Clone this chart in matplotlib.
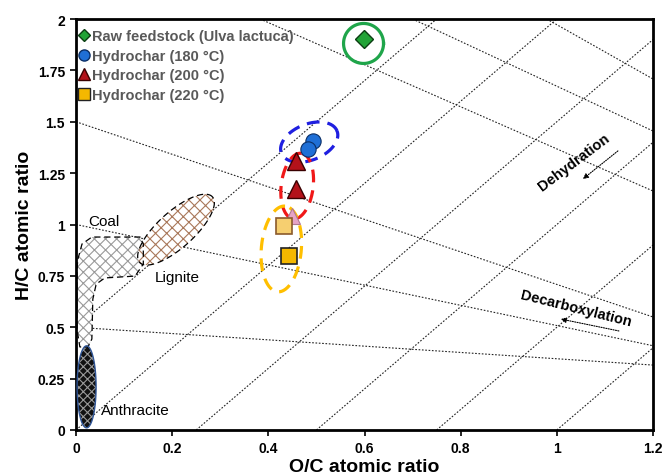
import numpy as np
import matplotlib
matplotlib.use("Agg")
import matplotlib.pyplot as plt
from matplotlib.patches import Polygon
from matplotlib.lines import Line2D

plt.rcParams['font.family'] = ['Liberation Sans', 'DejaVu Sans']

# ---------------- data ----------------
raw_oc = [0.598]
raw_hc = [1.903]
hc180_oc = [0.492, 0.483]
hc180_hc = [1.406, 1.367]
hc200_oc = [0.458, 0.458, 0.450]
hc200_hc = [1.309, 1.173, 1.041]
hc220_oc = [0.433, 0.442]
hc220_hc = [0.993, 0.847]

series_labels = ["Raw feedstock (Ulva lactuca)", "Hydrochar (180 °C)",
                 "Hydrochar (200 °C)", "Hydrochar (220 °C)"]

x_ticks = [0, 0.2, 0.4, 0.6, 0.8, 1.0, 1.2]
x_tick_labels = ["0", "0.2", "0.4", "0.6", "0.8", "1", "1.2"]
y_ticks = [0, 0.25, 0.5, 0.75, 1.0, 1.25, 1.5, 1.75, 2.0]
y_tick_labels = ["0", "0.25", "0.5", "0.75", "1", "1.25", "1.5", "1.75", "2"]

# dehydration guide lines: H/C = 2 * (O/C - offset)
dehydration_offsets = [-0.25, 0.0, 0.25, 0.5, 0.75, 1.0]
# decarboxylation guide lines (start O/C, start H/C, end O/C, end H/C)
decarb_x0 = [0.383, 0.700, 0.979, 0.0, 0.0, 0.0]
decarb_y0 = [2.000, 2.000, 2.000, 1.5, 1.0, 0.5]
decarb_x1 = [1.2, 1.2, 1.2, 1.2, 1.2, 1.2]
decarb_y1 = [1.163, 1.455, 1.708, 0.55, 0.41, 0.316]

# coal region outline (O/C, H/C)
coal_oc = [0.004, 0.0125, 0.033, 0.133, 0.140, 0.140, 0.123, 0.060, 0.042,
           0.035, 0.033, 0.025, 0.008, 0.002, 0.002]
coal_hc = [0.832, 0.905, 0.939, 0.939, 0.905, 0.808, 0.749, 0.740, 0.710,
           0.637, 0.443, 0.404, 0.404, 0.491, 0.783]

# ---------------- figure ----------------
fig = plt.figure(figsize=(6.66, 4.77), dpi=100)
ax = fig.add_axes([76 / 666, 1 - 431 / 477, 577 / 666, 411 / 477])
ax.set_xlim(0, 1.2)
ax.set_ylim(0, 2)

guide = dict(color='#222222', lw=0.8, linestyle=(0, (1.5, 1.5)), zorder=1)
for off in dehydration_offsets:
    x_start = max(0.0, off)
    ax.plot([x_start, 1.2], [2 * (x_start - off), 2 * (1.2 - off)], **guide)
for a, b, c, d in zip(decarb_x0, decarb_y0, decarb_x1, decarb_y1):
    ax.plot([a, c], [b, d], **guide)


def ellipse_pts(cx, cy, a, b, ang):
    """ellipse with centre in data coords, semi-axes in pixels, angle in deg"""
    t = np.linspace(0, 2 * np.pi, 200)
    c0 = ax.transData.transform((cx, cy))
    th = np.deg2rad(ang)
    px = a * np.cos(t) * np.cos(th) - b * np.sin(t) * np.sin(th)
    py = a * np.cos(t) * np.sin(th) + b * np.sin(t) * np.cos(th)
    pts = np.column_stack([c0[0] + px, c0[1] + py])
    return ax.transData.inverted().transform(pts)


plt.rcParams['hatch.linewidth'] = 0.8

# coal
coal_xy = np.column_stack([coal_oc, coal_hc])
ax.add_patch(Polygon(coal_xy, closed=True, facecolor='white', edgecolor='#9a9a9a',
                     hatch='xxx', lw=0, zorder=2))
ax.add_patch(Polygon(coal_xy, closed=True, fill=False, edgecolor='black',
                     lw=0.9, linestyle=(0, (5, 3)), zorder=3))
# lignite
lig = ellipse_pts(0.208, 0.975, 49, 18, 42)
ax.add_patch(Polygon(lig, closed=True, facecolor='white', edgecolor='#a9785a',
                     hatch='xxx', lw=0, zorder=2))
ax.add_patch(Polygon(lig, closed=True, fill=False, edgecolor='black',
                     lw=0.9, linestyle=(0, (5, 3)), zorder=3))
# anthracite
ant = ellipse_pts(0.022, 0.21, 41, 9.5, 90)
ax.add_patch(Polygon(ant, closed=True, facecolor='#111111', edgecolor='#9a9a9a',
                     hatch='xxxx', lw=0, zorder=2))
ax.add_patch(Polygon(ant, closed=True, fill=False, edgecolor='#2f5597',
                     lw=1.0, zorder=3))

ax.text(0.025, 1.015, "Coal", fontsize=11, va='center', ha='left', zorder=4)
ax.text(0.164, 0.743, "Lignite", fontsize=11, va='center', ha='left', zorder=4)
ax.text(0.052, 0.097, "Anthracite", fontsize=11, va='center', ha='left', zorder=4)

# group ellipses
for (cx, cy, a, b, ang, col, ls) in [
        (0.598, 1.881, 20, 20, 0, '#1fa54a', '-'),
        (0.485, 1.401, 30, 18, 22, '#1f1fe0', (0, (4, 2.5))),
        (0.460, 1.187, 33, 16, 83, '#f01818', (0, (4, 2.5))),
        (0.427, 0.881, 43, 20, 85, '#ffbf00', (0, (4, 2.5)))]:
    pts = ellipse_pts(cx, cy, a, b, ang)
    ax.plot(pts[:, 0], pts[:, 1], color=col, lw=2.3, linestyle=ls, zorder=6)

# markers
ax.plot(raw_oc, raw_hc, 'D', ms=9, mfc='#21a336', mec='#0b3d12', mew=1.0, zorder=7)
ax.plot(hc180_oc, hc180_hc, 'o', ms=11, mfc='#1f6fd6', mec='#0b2f66', mew=0.8, zorder=7)
ax.plot(hc200_oc[:2], hc200_hc[:2], '^', ms=13, mfc='#b3121a', mec='#3a0000', mew=1.0, zorder=7)
ax.plot(hc200_oc[2:], hc200_hc[2:], '^', ms=12, mfc='#e6a3c6', mec='#b07890', mew=0.8, zorder=7)
ax.plot(hc220_oc[1:], hc220_hc[1:], 's', ms=11.5, mfc='#f5b800', mec='#222222', mew=1.2, zorder=7)
ax.plot(hc220_oc[:1], hc220_hc[:1], 's', ms=11.5, mfc='#f6cf70', mec='#8b5a2b', mew=1.2, zorder=7)

# process arrows and labels
arrow = dict(arrowstyle='-|>', linestyle=(0, (1, 1.2)), lw=0.8, color='black',
             mutation_scale=8, shrinkA=0, shrinkB=0)
ax.annotate("", xy=(1.054, 1.221), xytext=(1.127, 1.358), arrowprops=arrow, zorder=5)
ax.annotate("", xy=(1.008, 0.540), xytext=(1.129, 0.482), arrowprops=arrow, zorder=5)
ax.text(1.035, 1.304, "Dehydration", fontsize=10.5, fontweight='bold', rotation=37,
        ha='center', va='center', rotation_mode='anchor', zorder=5)
ax.text(1.04, 0.594, "Decarboxylation", fontsize=10.5, fontweight='bold', rotation=-14,
        ha='center', va='center', rotation_mode='anchor', zorder=5)

# axes styling
ax.set_xticks(x_ticks)
ax.set_xticklabels(x_tick_labels)
ax.set_yticks(y_ticks)
ax.set_yticklabels(y_tick_labels)
for lab in ax.get_xticklabels() + ax.get_yticklabels():
    lab.set_fontweight('bold')
ax.tick_params(axis='both', direction='out', length=4, width=1.2, labelsize=10,
               colors='black', pad=4)
for sp in ax.spines.values():
    sp.set_linewidth(2.0)
    sp.set_color('black')
ax.set_xlabel("O/C atomic ratio", fontsize=14, fontweight='bold', labelpad=2)
ax.set_ylabel("H/C atomic ratio", fontsize=14, fontweight='bold', labelpad=3)

handles = [
    Line2D([], [], marker='D', ls='', ms=6, mfc='#21a336', mec='#0b3d12'),
    Line2D([], [], marker='o', ls='', ms=8, mfc='#1f6fd6', mec='#0b2f66'),
    Line2D([], [], marker='^', ls='', ms=9, mfc='#b3121a', mec='#3a0000'),
    Line2D([], [], marker='s', ls='', ms=8, mfc='#f5b800', mec='#222222'),
]
leg = ax.legend(handles, series_labels, loc='upper left', bbox_to_anchor=(-0.014, 1.0),
                frameon=False, handlelength=0.8, handletextpad=0.15, labelspacing=0.38,
                borderaxespad=0.3, prop={'size': 10.5, 'weight': 'bold'})
for t in leg.get_texts():
    t.set_color('#595959')

fig.savefig("out.png", dpi=100)
